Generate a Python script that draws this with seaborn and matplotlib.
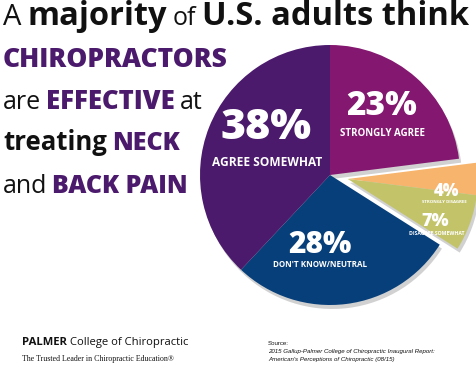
import matplotlib
matplotlib.use("Agg")
import matplotlib.pyplot as plt
import matplotlib.patches as mpatches
import seaborn as sns
import numpy as np

# Survey answers (percent of U.S. adults)
answers = ["Strongly Agree", "Strongly Disagree", "Disagree Somewhat",
           "Don't Know/Neutral", "Agree Somewhat"]
shares = [23, 4, 7, 28, 38]
pulled_out = ["Strongly Disagree", "Disagree Somewhat"]

slice_colors = ["#84176f", "#f7b46c", "#c3c46a", "#073f7a", "#4b1a6c"]
PURPLE = "#4b1a6c"

sns.set_theme(style="white")
plt.rcParams["font.family"] = ["Open Sans", "DejaVu Sans"]

W, H = 476, 371
fig = plt.figure(figsize=(W / 100, H / 100), dpi=100)
fig.patch.set_facecolor("white")

# Pie axes: center at (330, 175) px, radius 130 px, limits +-1.3
half = 1.3 * 130
ax = fig.add_axes([(330 - half) / W, (H - 175 - half) / H, 2 * half / W, 2 * half / H])
ax.axis("off")

shadow = dict(ox=0.012, oy=-0.022, facecolor="#9a9a9a", edgecolor="none", alpha=0.45)

main_colors = [c if a not in pulled_out else "none" for a, c in zip(answers, slice_colors)]
ax.pie(shares, colors=main_colors, startangle=90, counterclock=False,
       radius=1, wedgeprops=dict(linewidth=0), shadow=shadow)

# Offset the two disagree slices together along their common middle
frac = np.cumsum([0] + shares) / sum(shares)
i0 = answers.index(pulled_out[0])
i1 = answers.index(pulled_out[-1])
mid = np.deg2rad(90 - 360 * (frac[i0] + frac[i1 + 1]) / 2)
shift = 0.14
off_colors = [c if a in pulled_out else "none" for a, c in zip(answers, slice_colors)]
ax.pie(shares, colors=off_colors, startangle=90, counterclock=False, radius=1,
       center=(shift * np.cos(mid), shift * np.sin(mid)),
       wedgeprops=dict(linewidth=0), shadow=shadow)

# drop the shadows of the hidden wedges (each shadow follows its wedge)
last = None
for p in list(ax.patches):
    if isinstance(p, mpatches.Shadow):
        if last is not None and last.get_facecolor()[3] == 0:
            p.set_visible(False)
    else:
        last = p

ax.set_xlim(-1.3, 1.3)
ax.set_ylim(-1.3, 1.3)
ax.set_aspect("equal")

# Slice labels
big = dict(color="white", fontweight="heavy", ha="center", va="center")
small = dict(color="white", fontweight="bold", ha="center", va="center")
ax.text(-0.49, 0.36, "38%", fontsize=31, **big)
ax.text(-0.48, 0.10, "AGREE SOMEWHAT", fontsize=8.6, **small)
ax.text(0.40, 0.53, "23%", fontsize=24, **big)
ax.text(0.40, 0.32, "STRONGLY AGREE", fontsize=7, **small)
ax.text(-0.08, -0.54, "28%", fontsize=21.5, **big)
ax.text(-0.08, -0.69, "DON'T KNOW/NEUTRAL", fontsize=5.8, **small)
ax.text(0.90, -0.13, "4%", fontsize=12, **big)
ax.text(0.88, -0.21, "STRONGLY DISAGREE", fontsize=3.2, **small)
ax.text(0.81, -0.36, "7%", fontsize=13, **big)
ax.text(0.82, -0.45, "DISAGREE SOMEWHAT", fontsize=3.7, **small)

# Headline built from mixed-style pieces
renderer = fig.canvas.get_renderer()


def write_line(parts, x, y, gap=5):
    for s, color, weight, size in parts:
        t = fig.text(x / W, 1 - y / H, s, color=color, fontsize=size,
                     fontweight=weight, ha="left", va="baseline")
        x += t.get_window_extent(renderer).width + gap


K = "#111111"
write_line([("A", K, "normal", 21), ("majority", K, "bold", 23.5),
            ("of", K, "normal", 18), ("U.S. adults think", K, "bold", 23.5)], 3, 25, gap=6)
write_line([("CHIROPRACTORS", PURPLE, "heavy", 19)], 3, 67)
write_line([("are", K, "normal", 18), ("EFFECTIVE", PURPLE, "heavy", 18.5),
            ("at", K, "normal", 18)], 3, 109)
write_line([("treating", K, "bold", 18.5), ("NECK", PURPLE, "heavy", 18)], 3, 150)
write_line([("and", K, "normal", 18), ("BACK PAIN", PURPLE, "heavy", 18)], 3, 193)

# Footer
write_line([("PALMER", K, "bold", 8.1), ("College of Chiropractic", K, "normal", 8.1)], 22, 345, gap=3)
fig.text(22 / W, 1 - 361 / H, "The Trusted Leader in Chiropractic Education\u00ae",
         family="Liberation Serif", fontsize=5.7, color=K, ha="left", va="baseline")

src = dict(family="Liberation Sans", fontsize=4.45, color=K, ha="left", va="baseline")
fig.text(268 / W, 1 - 345 / H, "Source:", **src)
fig.text(268 / W, 1 - 353 / H, "2015 Gallup-Palmer College of Chiropractic Inaugural Report:",
         style="italic", **src)
fig.text(268 / W, 1 - 361 / H, "American's Perceptions of Chiropractic (08/15)",
         style="italic", **src)

fig.savefig("out.png", dpi=100)
